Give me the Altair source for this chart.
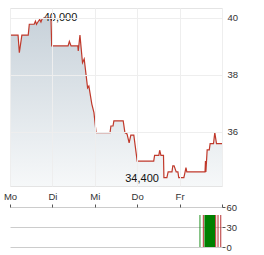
import altair as alt
import pandas as pd

# price series (t in trading days from Monday, price)
t_vals = [0.00, 0.19, 0.22, 0.28, 0.43, 0.455, 0.57, 0.60, 0.625, 0.65, 0.70, 0.73, 0.755, 0.795,
          0.967, 0.983, 1.37, 1.40, 1.44, 1.60, 1.61, 1.65, 1.71, 1.75, 1.83, 1.86, 1.93, 1.98,
          2.03, 2.36, 2.38, 2.43, 2.45, 2.67, 2.71, 2.76, 2.81, 2.85, 2.92, 3.00, 3.39, 3.41,
          3.51, 3.53, 3.56, 3.62, 3.63, 3.70, 3.73, 3.82, 3.84, 3.87, 3.92, 3.96, 3.98, 4.10,
          4.13, 4.15, 4.17, 4.60, 4.61, 4.62, 4.65, 4.70, 4.72, 4.80, 4.83, 4.87, 5.00]
prices = [39.40, 39.40, 38.78, 39.40, 39.40, 39.78, 39.78, 39.89, 39.78, 39.84, 39.95, 39.86, 39.96, 40.00,
          40.00, 39.02, 39.02, 39.18, 39.02, 39.02, 38.84, 39.40, 38.43, 38.56, 37.55, 37.61, 36.98, 36.68,
          35.98, 35.98, 36.21, 36.21, 36.39, 36.39, 35.98, 35.93, 35.62, 35.89, 35.89, 34.98, 34.98, 35.18,
          35.18, 35.36, 35.18, 35.18, 34.40, 34.40, 34.60, 34.60, 34.81, 34.81, 34.60, 34.60, 34.40, 34.40,
          34.60, 34.75, 34.60, 34.60, 34.98, 34.60, 35.37, 35.37, 35.59, 35.59, 35.98, 35.59, 35.59]

days = ["Mo", "Di", "Mi", "Do", "Fr"]
price_ticks = [36, 38, 40]
price_domain = [34.105, 40.35]

ann_t = [0.795, 3.63]
ann_v = [40.00, 34.40]
ann_text = ["40,000", "34,400"]
ann_align = ["left", "right"]

vol_start = [4.470, 4.548, 4.585, 4.840, 4.895, 4.960]
vol_end = [4.490, 4.570, 4.835, 4.862, 4.917, 4.982]
vol_vals = [48, 48, 48, 48, 48, 48]
vol_color = ["green", "red", "green", "red", "red", "red"]
vol_ticks = [0, 30, 60]

df = pd.DataFrame({"t": t_vals, "p": prices})
ann = pd.DataFrame({"t": ann_t, "p": ann_v, "txt": ann_text, "al": ann_align})
vdf = pd.DataFrame({"s": vol_start, "e": vol_end, "v": vol_vals, "c": vol_color})

day_expr = "datum.value < %d ? %s[datum.value] : ''" % (len(days), str(days))

W = 212
xs = alt.Scale(domain=[0, 5], nice=False, zero=False)

x_main = alt.X("t:Q", scale=xs, title=None,
               axis=alt.Axis(values=[0, 1, 2, 3, 4, 5], labelExpr=day_expr, ticks=False, domain=False,
                             grid=True, gridColor="#eeeeee", labelFontSize=9.5, labelColor="#333333",
                             labelPadding=5, labelFont="Liberation Sans", labelFlush=False, zindex=1))
y_main = alt.Y("p:Q", scale=alt.Scale(domain=price_domain, nice=False, zero=False), title=None,
               axis=alt.Axis(orient="right", values=price_ticks, ticks=False, domain=False, grid=True,
                             gridColor="#eeeeee", labelFontSize=9.5, labelColor="#333333",
                             labelPadding=5, labelFont="Liberation Sans", zindex=1))

grad = alt.Gradient(gradient="linear",
                    stops=[alt.GradientStop(color="#c8d2da", offset=0),
                           alt.GradientStop(color="#f6f8f9", offset=1)],
                    x1=1, x2=1, y1=0, y2=1)

area = alt.Chart(df).mark_area(color=grad, interpolate="linear", clip=True).encode(
    x=x_main, y=y_main, y2=alt.datum(price_domain[0]))
line = alt.Chart(df).mark_line(color="#c0392b", strokeWidth=1.2).encode(x="t:Q", y="p:Q")
lbl_left = alt.Chart(ann[ann.al == "left"]).mark_text(align="left", baseline="middle", dx=0, fontSize=11,
                                                      font="Liberation Sans", color="#111111").encode(
    x="t:Q", y="p:Q", text="txt:N")
lbl_right = alt.Chart(ann[ann.al == "right"]).mark_text(align="right", baseline="middle", dx=-5, dy=1, fontSize=11,
                                                        font="Liberation Sans", color="#111111").encode(
    x="t:Q", y="p:Q", text="txt:N")

top = alt.layer(area, line, lbl_left, lbl_right).properties(
    width=W, height=178, view=alt.ViewBackground(stroke="#e4e4e4"))

bars = alt.Chart(vdf).mark_rect().encode(
    x=alt.X("s:Q", scale=xs, title=None,
            axis=alt.Axis(orient="top", values=[0, 1, 2, 3, 4, 5], labels=False, domain=False, grid=False,
                          ticks=True, tickSize=3, tickColor="#555555")),
    x2="e:Q",
    y=alt.Y("v:Q", scale=alt.Scale(domain=[0, 60], nice=False), title=None,
            axis=alt.Axis(orient="right", values=vol_ticks, domain=False, grid=True, gridColor="#cccccc",
                          ticks=True, tickSize=3, tickColor="#555555", labelFontSize=9.5,
                          labelColor="#333333", labelPadding=1, labelFont="Liberation Sans")),
    color=alt.Color("c:N", scale=alt.Scale(domain=["green", "red"], range=["#008000", "#b22222"]), legend=None),
)
bottom = bars.properties(width=W, height=40, view=alt.ViewBackground(stroke=None))

chart = alt.vconcat(top, bottom, spacing=1).properties(
    padding={"left": 2, "top": 7, "right": 0, "bottom": 0}
).configure(background="white")

chart.save("out.html", embed_options={"renderer": "svg", "actions": False})
